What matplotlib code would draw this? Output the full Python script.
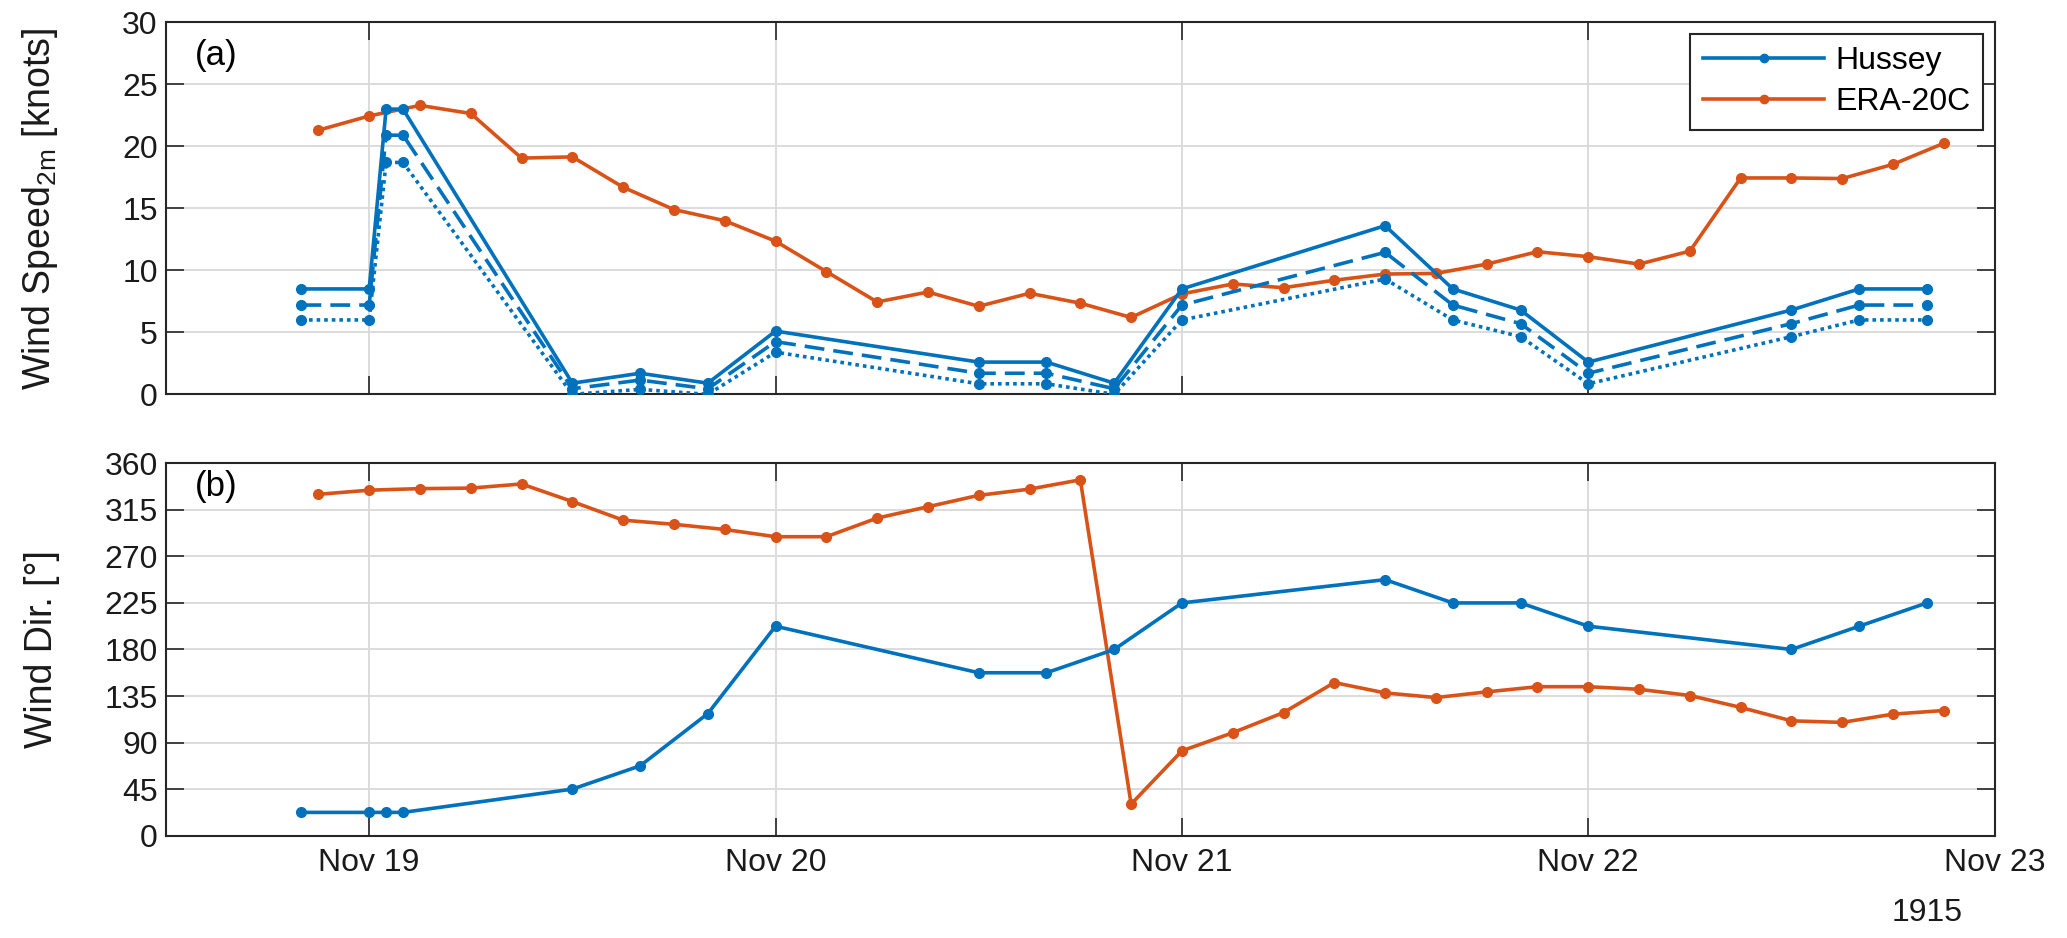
import numpy as np
import pandas as pd
import matplotlib
matplotlib.use('Agg')
from matplotlib import pyplot as plt
import matplotlib.dates as mdates

plt.rcParams['font.family'] = ['Liberation Sans', 'DejaVu Sans']

# Hussey observations
hussey_time = pd.to_datetime([
    '1915-11-18 20:00', '1915-11-19 00:00', '1915-11-19 01:00', '1915-11-19 02:00',
    '1915-11-19 12:00', '1915-11-19 16:00', '1915-11-19 20:00', '1915-11-20 00:00',
    '1915-11-20 12:00', '1915-11-20 16:00', '1915-11-20 20:00', '1915-11-21 00:00',
    '1915-11-21 12:00', '1915-11-21 16:00', '1915-11-21 20:00', '1915-11-22 00:00',
    '1915-11-22 12:00', '1915-11-22 16:00', '1915-11-22 20:00'])
hussey_speed = [8.5, 8.5, 23.0, 23.0, 0.9, 1.7, 0.9, 5.1, 2.6, 2.6, 0.9,
                8.5, 13.6, 8.5, 6.8, 2.6, 6.8, 8.5, 8.5]
hussey_speed_mid = [7.2, 7.2, 20.9, 20.9, 0.45, 1.15, 0.45, 4.25, 1.7, 1.7, 0.45,
                    7.2, 11.45, 7.2, 5.7, 1.7, 5.7, 7.2, 7.2]
hussey_speed_low = [6.0, 6.0, 18.7, 18.7, 0.0, 0.4, 0.0, 3.4, 0.85, 0.85, 0.0,
                    6.0, 9.3, 6.0, 4.65, 0.85, 4.65, 6.0, 6.0]
hussey_dir = [22.5, 22.5, 22.5, 22.5, 45, 67.5, 118, 202.5, 157.5, 157.5, 180,
              225, 247.5, 225, 225, 202.5, 180, 202.5, 225]

# ERA-20C, 3-hourly
era_time = pd.date_range('1915-11-18 21:00', periods=33, freq='3h')
era_speed = [21.3, 22.45, 23.3, 22.65, 19.05, 19.15, 16.7, 14.9, 14.0, 12.35,
             9.9, 7.45, 8.25, 7.1, 8.15, 7.35, 6.2, 8.1, 8.9, 8.6, 9.2, 9.7,
             9.75, 10.5, 11.5, 11.1, 10.5, 11.55, 17.45, 17.45, 17.4, 18.55, 20.25]
era_dir = [330, 334, 335.5, 336, 340, 323, 305, 301, 296, 289, 289, 307, 318,
           329, 335, 344, 30.5, 82, 99.5, 119, 148, 138, 133.5, 139, 144, 144,
           141.5, 135.5, 124, 111, 109.5, 117.5, 121]

blue = '#0072BD'
orange = '#D95319'
lw = 2.6
ms = 7
tick_fs = 23
label_fs = 27

fig = plt.figure(figsize=(20.67, 9.38), dpi=100)
ax1 = fig.add_axes([0.0803, 0.5796, 0.8847, 0.3966])
ax2 = fig.add_axes([0.0803, 0.1091, 0.8847, 0.3970])

ax1.plot(hussey_time, hussey_speed, '-o', color=blue, lw=lw, ms=ms, label='Hussey', zorder=4)
ax1.plot(hussey_time, hussey_speed_mid, 'o', ls=(0, (5.5, 2.5)), color=blue, lw=lw, ms=ms, zorder=4)
ax1.plot(hussey_time, hussey_speed_low, 'o', ls=(0, (1, 1.1)), color=blue, lw=lw, ms=ms, zorder=4)
ax1.plot(era_time, era_speed, '-o', color=orange, lw=lw, ms=ms, label='ERA-20C', zorder=3)

ax2.plot(hussey_time, hussey_dir, '-o', color=blue, lw=lw, ms=ms, zorder=4)
ax2.plot(era_time, era_dir, '-o', color=orange, lw=lw, ms=ms, zorder=3)

for ax in (ax1, ax2):
    ax.set_xlim(pd.Timestamp('1915-11-18 12:00'), pd.Timestamp('1915-11-23 00:00'))
    ax.xaxis.set_major_locator(mdates.DayLocator())
    ax.xaxis.set_major_formatter(mdates.DateFormatter('%b %d'))
    ax.grid(True, color='#d9d9d9', lw=1.3)
    ax.set_axisbelow(True)
    ax.tick_params(direction='in', length=13, width=1.2, colors='#262626',
                   top=True, right=True, labelsize=tick_fs, labelcolor='#1a1a1a')
    ax.tick_params(axis='x', pad=9)
    ax.tick_params(axis='y', pad=6)
    for s in ax.spines.values():
        s.set_linewidth(1.5)
        s.set_color('#262626')

ax1.set_ylim(0, 30)
ax1.set_yticks(np.arange(0, 31, 5))
ax1.tick_params(labelbottom=False)
ax1.set_ylabel('Wind Speed$_{\\mathregular{2m}}$ [knots]', fontsize=label_fs, color='#1a1a1a')

ax2.set_ylim(0, 360)
ax2.set_yticks(np.arange(0, 361, 45))
ax2.set_ylabel('Wind Dir. [°]', fontsize=label_fs, color='#1a1a1a')

ax1.yaxis.set_label_coords(-0.058, 0.5)
ax2.yaxis.set_label_coords(-0.058, 0.5)

ax1.text(0.016, 0.912, '(a)', transform=ax1.transAxes, fontsize=25, va='center', ha='left')
ax2.text(0.016, 0.937, '(b)', transform=ax2.transAxes, fontsize=25, va='center', ha='left')
ax2.text(0.963, -0.208, '1915', transform=ax2.transAxes, fontsize=tick_fs,
         ha='center', va='center', color='#1a1a1a')

leg = ax1.legend(loc='upper right', bbox_to_anchor=(1, 1), fontsize=tick_fs,
                 handlelength=3.8, handletextpad=0.35, labelspacing=0.35,
                 borderpad=0.4, borderaxespad=0.35, fancybox=False, numpoints=1,
                 framealpha=1)
leg.get_frame().set_edgecolor('#262626')
leg.get_frame().set_linewidth(1.5)
for l in leg.get_lines():
    l.set_markersize(6)

fig.savefig('out.png', dpi=100)
